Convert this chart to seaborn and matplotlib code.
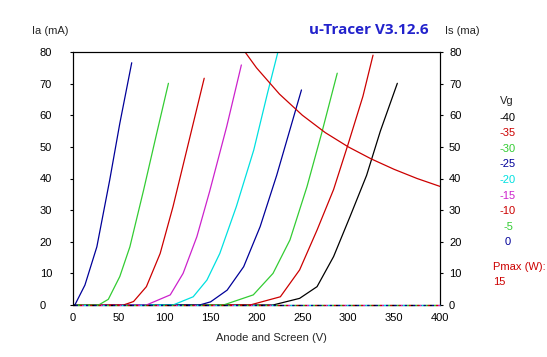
import pandas as pd
import seaborn as sns
import matplotlib
matplotlib.use('Agg')
import matplotlib.pyplot as plt

# grid voltages and trace colours
vg_steps = [-40, -35, -30, -25, -20, -15, -10, -5, 0]
vg_colors = ['#000000', '#cc0000', '#33cc33', '#000099', '#00e0e0',
             '#cc22cc', '#cc0000', '#33cc33', '#000099']

# anode current traces (V, mA)
va_m40 = [0, 218, 247, 266, 284, 302, 320, 335, 353.5]
ia_m40 = [0, 0, 2.1, 5.8, 15.3, 28, 41, 55, 70.1]
va_m35 = [0, 193, 226, 247, 266, 284, 300, 316, 327]
ia_m35 = [0, 0, 2.6, 11.1, 23.7, 36.5, 51, 66, 79]
va_m30 = [0, 164, 196.5, 218, 236.5, 255, 271, 288]
ia_m30 = [0, 0, 3.2, 10, 20.6, 37.4, 54.3, 73.3]
va_m25 = [0, 138, 150, 168, 186, 204, 222, 238, 249]
ia_m25 = [0, 0, 1, 4.7, 12.1, 24.8, 41, 57, 68]
va_m20 = [0, 109, 131, 146, 160, 178, 197, 212, 223]
ia_m20 = [0, 0, 2.6, 7.9, 16.3, 31.1, 49, 67, 79.6]
va_m15 = [0, 80, 106, 120, 135, 149, 167.5, 183.5]
ia_m15 = [0, 0, 3.2, 10, 21.6, 36, 56.4, 75.9]
va_m10 = [0, 55, 66, 80, 95, 109, 124, 143]
ia_m10 = [0, 0, 1.1, 5.8, 16.3, 31.1, 49, 71.7]
va_m5 = [0, 28, 38.5, 51, 62, 77, 91, 104]
ia_m5 = [0, 0, 1.8, 9, 18.4, 36.4, 54, 70.1]
va_0 = [0, 2, 13, 26, 40, 51, 64]
ia_0 = [0, 0, 6.3, 18.4, 39.5, 57.4, 76.6]

# screen current traces (all zero)
screen_va = [0, 400]
screen_is = [0, 0]

# Pmax = 15 W limit curve
pmax_va = [187.5, 200, 225, 250, 275, 300, 325, 350, 375, 400]
pmax_ia = [80, 75, 66.7, 60, 54.5, 50, 46.2, 42.9, 40, 37.5]

va_all = [va_m40, va_m35, va_m30, va_m25, va_m20, va_m15, va_m10, va_m5, va_0]
ia_all = [ia_m40, ia_m35, ia_m30, ia_m25, ia_m20, ia_m15, ia_m10, ia_m5, ia_0]

rows = []
for vg, va, ia in zip(vg_steps, va_all, ia_all):
    for v, i in zip(va, ia):
        rows.append({'vg': vg, 'va': v, 'ia': i})
df = pd.DataFrame(rows)
pal = dict(zip(vg_steps, vg_colors))

sns.set_style('white')
plt.rcParams['font.family'] = ['Liberation Sans', 'DejaVu Sans']

fig = plt.figure(figsize=(5.47, 3.57), dpi=100)
ax = fig.add_axes([73/547, 52/357, 367/547, 253/357])

sns.lineplot(data=df, x='va', y='ia', hue='vg', palette=pal, estimator=None,
             sort=False, legend=False, linewidth=0.9, ax=ax)
sns.lineplot(x=pmax_va, y=pmax_ia, color='#cc0000', linewidth=0.9, ax=ax)

ax2 = ax.twinx()
for k, c in enumerate(vg_colors):
    ax2.plot(screen_va, screen_is, color=c, linewidth=1.0, clip_on=False,
             linestyle=(k * 1.5, (1.5, 12)), zorder=5)

ax.set_xlim(0, 400)
ax.set_ylim(0, 80)
ax2.set_ylim(0, 80)
ax.set_xticks(range(0, 401, 50))
ax.set_yticks(range(0, 81, 10))
ax2.set_yticks(range(0, 81, 10))
ax.set_xlabel('')
ax.set_ylabel('')

for a in (ax, ax2):
    for s in a.spines.values():
        s.set_color('black')
        s.set_linewidth(0.8)
ax2.spines['bottom'].set_visible(False)

ax.tick_params(axis='y', direction='out', length=2.5, width=0.8, pad=21.5,
               labelsize=8, colors='black')
for lab in ax.get_yticklabels():
    lab.set_ha('left')
ax.tick_params(axis='x', direction='out', length=2.5, width=0.8, pad=3,
               labelsize=8, colors='black')
ax2.tick_params(axis='y', direction='out', length=2.5, width=0.8, pad=4,
                labelsize=8, colors='black')

fig.text(368.5/547, 1 - 30/357, 'u-Tracer V3.12.6', color='#2222cc',
         fontsize=11, fontweight='bold', ha='center', va='center',
         family=['Open Sans', 'DejaVu Sans'])
fig.text(32/547, 1 - 31/357, 'Ia (mA)', fontsize=8, ha='left', va='center')
fig.text(445/547, 1 - 31/357, 'Is (ma)', fontsize=8, ha='left', va='center')
fig.text(271/547, 1 - 338/357, 'Anode and Screen (V)', fontsize=8,
         ha='center', va='center')

# Vg legend
fig.text(507/547, 1 - 101.5/357, 'Vg', fontsize=8, ha='center', va='center')
for k, (vg, c) in enumerate(zip(vg_steps, vg_colors)):
    y = 118 + k * 15.5
    fig.text(508/547, 1 - y/357, str(vg), color=c, fontsize=8,
             ha='center', va='center')
fig.text(493/547, 1 - 267/357, 'Pmax (W):', color='#cc0000', fontsize=8,
         ha='left', va='center')
fig.text(493/547, 1 - 282/357, '15', color='#cc0000', fontsize=8,
         ha='left', va='center')

fig.savefig('out.png', dpi=100)
